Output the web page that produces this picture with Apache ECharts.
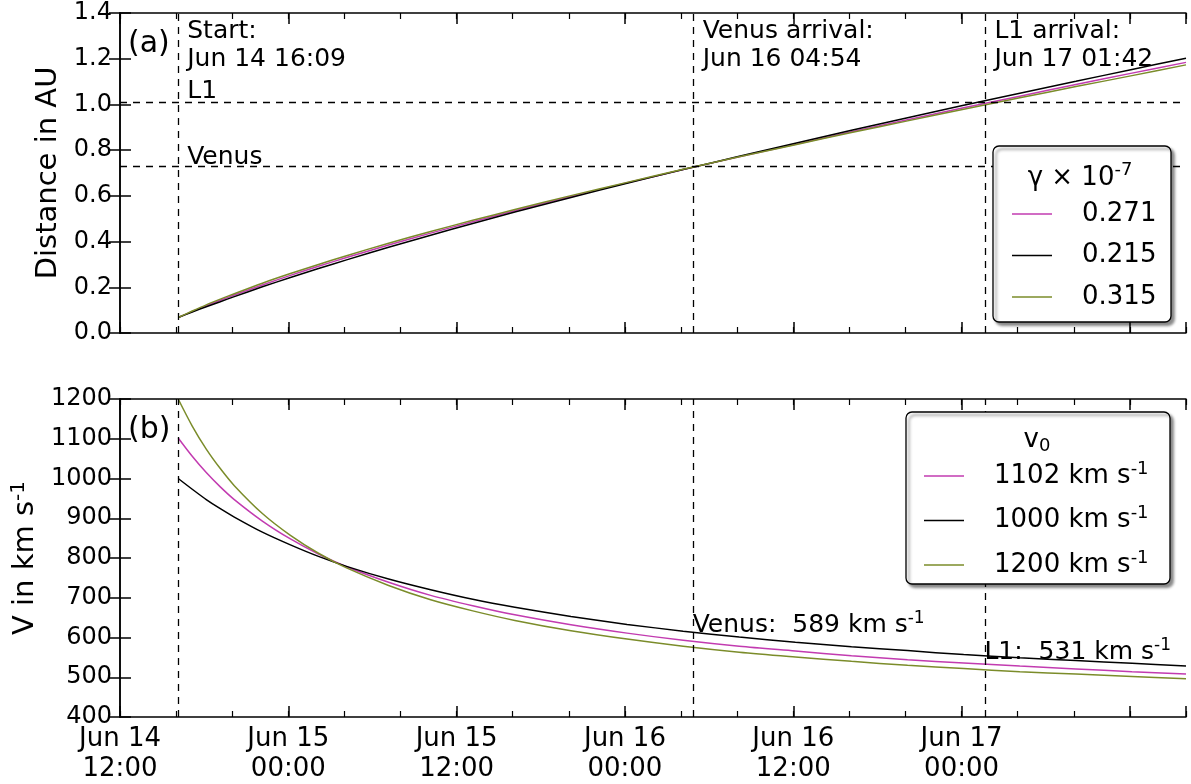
<!DOCTYPE html>
<html>
<head>
<meta charset="utf-8">
<script src="https://cdn.jsdelivr.net/npm/echarts@6/dist/echarts.min.js"></script>
<style>
html,body{margin:0;padding:0;background:#fff;}
#chart{width:1191px;height:784px;}
</style>
</head>
<body>
<div id="chart"></div>
<script>
// ---- data (hours counted from Jun 14 12:00) ----
const tickLabels = ['Jun 14\n12:00','Jun 15\n00:00','Jun 15\n12:00','Jun 16\n00:00','Jun 16\n12:00','Jun 17\n00:00'];
const hours = [4.15,5.15,6.15,7.15,8.15,10.15,12.15,14.15,16.15,19.15,22.15,25.15,28.15,32.15,36.15,40.15,44.15,48.15,52.15,56.15,60.15,64.15,68.15,72.15,76.0];

const gammaLabels = ['0.271','0.215','0.315'];
const v0Labels = ['1102','1000','1200'];

const distPink  = [0.068,0.094,0.119,0.143,0.166,0.210,0.252,0.292,0.330,0.385,0.437,0.487,0.535,0.597,0.657,0.715,0.771,0.826,0.880,0.933,0.985,1.036,1.087,1.137,1.184];
const distBlack = [0.068,0.092,0.115,0.137,0.159,0.202,0.243,0.282,0.320,0.375,0.428,0.479,0.529,0.593,0.655,0.715,0.773,0.830,0.887,0.942,0.996,1.049,1.101,1.153,1.202];
const distOlive = [0.068,0.096,0.123,0.148,0.172,0.218,0.260,0.300,0.338,0.393,0.444,0.493,0.540,0.601,0.659,0.716,0.771,0.824,0.877,0.928,0.979,1.029,1.078,1.126,1.173];

const velPink  = [1102,1056,1015,979,947,893,848,810,778,739,706,680,657,632,611,593,578,566,554,544,536,528,521,514,508];
const velBlack = [1000,973,947,924,903,865,833,804,779,747,720,696,676,653,633,616,601,588,577,567,557,549,542,535,528];
const velOlive = [1200,1132,1074,1025,982,912,857,812,775,731,695,667,643,617,596,578,563,551,540,530,522,514,508,502,496];

// event times (hours from Jun 14 12:00) and reference distances
const eventHours = [4.15, 40.9, 61.7];       // Start 16:09, Venus 04:54 (Jun 16), L1 01:42 (Jun 17)
const eventTexts = ['Start:\nJun 14 16:09', 'Venus arrival:\nJun 16 04:54', 'L1 arrival:\nJun 17 01:42'];
const refDistances = [1.015, 0.726];         // L1, Venus
const refNames = ['L1', 'Venus'];
const arrivalSpeeds = [589, 531];            // Venus, L1

const colors = ['#c23bb0', '#000000', '#7b8c2a'];
const FONT = 'DejaVu Sans';

function zip(xs, ys){ return xs.map((x,i)=>[x, ys[i]]); }

const chart = echarts.init(document.getElementById('chart'), null, {renderer:'canvas'});

const axisLineStyle = {show:true, lineStyle:{color:'#000', width:1.5}};
function xMajor(grid, pos, labels){
  return {type:'value', gridIndex:grid, position:pos, min:0, max:76, interval:12,
    axisLine: axisLineStyle,
    axisTick:{show:true, inside:true, length:11, lineStyle:{color:'#000', width:1.5}},
    axisLabel: labels ? {show:true, fontFamily:FONT, fontSize:26, lineHeight:30, color:'#000', margin:7,
        formatter:(v)=> (Math.abs(v/12 - Math.round(v/12))<1e-6 && tickLabels[Math.round(v/12)]) ? tickLabels[Math.round(v/12)] : ''} : {show:false},
    splitLine:{show:false}};
}
function xMinor(grid, pos){
  return {type:'value', gridIndex:grid, position:pos, min:0, max:76, interval:4,
    axisLine:{show:false},
    axisTick:{show:true, inside:true, length:6, lineStyle:{color:'#000', width:1.2}},
    axisLabel:{show:false}, splitLine:{show:false}};
}
function yAxis(grid, pos, min, max, interval, labels, fmt, name){
  const a = {type:'value', gridIndex:grid, position:pos, min:min, max:max, interval:interval,
    axisLine: axisLineStyle,
    axisTick:{show:true, inside:true, length:11, lineStyle:{color:'#000', width:1.5}},
    axisLabel: labels ? {show:true, fontFamily:FONT, fontSize:24, color:'#000', margin:8, formatter:fmt} : {show:false},
    splitLine:{show:false}};
  if (name) Object.assign(a, name);
  return a;
}

const lineSeries = (name, data, xi, yi, color) => ({
  name:name, type:'line', xAxisIndex:xi, yAxisIndex:yi, data:data, symbol:'none',
  smooth:0.3, lineStyle:{color:color, width:1.5}, itemStyle:{color:color}, z:3, silent:true
});

const dashStyle = {color:'#000', width:1.3, type:[7,6]};

const option = {
  animation:false,
  backgroundColor:'#fff',
  textStyle:{fontFamily:FONT},
  grid:[
    {left:120, top:13, width:1066, height:320, containLabel:false},
    {left:120, top:399, width:1066, height:319, containLabel:false}
  ],
  xAxis:[
    xMajor(0,'bottom',false), xMinor(0,'bottom'), xMajor(0,'top',false), xMinor(0,'top'),
    xMajor(1,'bottom',true),  xMinor(1,'bottom'), xMajor(1,'top',false), xMinor(1,'top')
  ],
  yAxis:[
    yAxis(0,'left',0,1.4,0.2,true,(v)=>v.toFixed(1),
      {name:'Distance in AU', nameLocation:'middle', nameGap:53, nameTextStyle:{fontFamily:FONT, fontSize:29, color:'#000'}}),
    yAxis(0,'right',0,1.4,0.2,false),
    yAxis(1,'left',400,1200,100,true,(v)=>String(Math.round(v)),
      {name:'{a|V in km s}{b|-1}', nameLocation:'middle', nameGap:70,
       nameTextStyle:{fontFamily:FONT, fontSize:29, color:'#000',
         rich:{a:{fontFamily:FONT, fontSize:29, color:'#000'}, b:{fontFamily:FONT, fontSize:20, color:'#000', padding:[0,0,14,0]}}}}),
    yAxis(1,'right',400,1200,100,false)
  ],
  legend:[
    {data:gammaLabels, orient:'vertical', left:1012, top:201, padding:0, itemGap:15.5,
     icon:'rect', itemWidth:40, itemHeight:1.5, selectedMode:false, z:60,
     formatter:(n)=>'{t|'+n+'}',
     textStyle:{fontFamily:FONT, fontSize:26, color:'#000',
       rich:{t:{fontFamily:FONT, fontSize:26, color:'#000', lineHeight:28, padding:[0,0,0,25]}}}},
    {data:v0Labels.map(v=>v+' km s-1'), orient:'vertical', left:924, top:460, padding:0, itemGap:12.5,
     icon:'rect', itemWidth:40, itemHeight:1.5, selectedMode:false, z:60,
     formatter:(n)=>'{t|'+n.replace(' km s-1',' km s')+'}{s|-1}',
     textStyle:{fontFamily:FONT, fontSize:26, color:'#000',
       rich:{t:{fontFamily:FONT, fontSize:26, color:'#000', lineHeight:28, padding:[0,0,0,25]},
             s:{fontFamily:FONT, fontSize:18, color:'#000', lineHeight:28, padding:[0,0,14,0]}}}}
  ],
  series:[
    // reference lines
    {type:'line', xAxisIndex:0, yAxisIndex:0, data:[], silent:true, z:2,
     markLine:{silent:true, symbol:['none','none'], label:{show:false}, lineStyle:dashStyle, animation:false,
       data: eventHours.map(h=>({xAxis:h})).concat(refDistances.map(d=>({yAxis:d})))}},
    {type:'line', xAxisIndex:4, yAxisIndex:2, data:[], silent:true, z:2,
     markLine:{silent:true, symbol:['none','none'], label:{show:false}, lineStyle:dashStyle, animation:false,
       data: eventHours.map(h=>({xAxis:h}))}},
    lineSeries(gammaLabels[0], zip(hours, distPink), 0, 0, colors[0]),
    lineSeries(gammaLabels[1], zip(hours, distBlack), 0, 0, colors[1]),
    lineSeries(gammaLabels[2], zip(hours, distOlive), 0, 0, colors[2]),
    lineSeries(v0Labels[0]+' km s-1', zip(hours, velPink), 4, 2, colors[0]),
    lineSeries(v0Labels[1]+' km s-1', zip(hours, velBlack), 4, 2, colors[1]),
    lineSeries(v0Labels[2]+' km s-1', zip(hours, velOlive), 4, 2, colors[2])
  ]
};
chart.setOption(option);

// ---- annotations & legend boxes ----
const P0 = (x,y)=>chart.convertToPixel({gridIndex:0},[x,y]);
const P1 = (x,y)=>chart.convertToPixel({gridIndex:1},[x,y]);
const txt = (x,y,text,opts)=>Object.assign({type:'text', x:x, y:y, z:40, silent:true,
  style:Object.assign({text:text, font:'25px "DejaVu Sans"', fill:'#000'}, opts||{})});

const g = [];
const topLeft0 = P0(0,1.4), topLeft1 = P1(0,1200);
g.push(txt(topLeft0[0]+8, topLeft0[1]+31, '(a)', {font:'30px "DejaVu Sans"', verticalAlign:'middle'}));
g.push(txt(topLeft1[0]+8, topLeft1[1]+31, '(b)', {font:'30px "DejaVu Sans"', verticalAlign:'middle'}));
eventHours.forEach((h,i)=>{
  const p = P0(h,1.4);
  g.push(txt(p[0]+9, p[1]+4, eventTexts[i], {lineHeight:28, verticalAlign:'top'}));
});
refDistances.forEach((d,i)=>{
  const p = P0(eventHours[0], d);
  g.push(txt(p[0]+9, p[1]+5, refNames[i], {verticalAlign:'bottom', lineHeight:30}));
});
const richSup = {n:{font:'25px "DejaVu Sans"', fill:'#000', lineHeight:30}, s:{font:'17px "DejaVu Sans"', fill:'#000', lineHeight:30, padding:[0,0,14,0]}};
[['Venus', eventHours[1], arrivalSpeeds[0], -1], ['L1', eventHours[2], arrivalSpeeds[1], 3]].forEach(([nm,h,v,dy])=>{
  const p = P1(h, v);
  g.push(txt(p[0]-1, p[1]+dy, '{n|'+nm+':  '+v+' km s}{s|-1}', {verticalAlign:'bottom', rich:richSup}));
});
// legend frames + titles
const box = (x,y,w,h)=>({type:'rect', z:30, silent:true, shape:{x:x,y:y,width:w,height:h,r:6},
  style:{fill:'#fff', stroke:'#000', lineWidth:1.3, shadowBlur:3, shadowOffsetX:3, shadowOffsetY:3, shadowColor:'rgba(0,0,0,0.45)'}});
g.push(box(993,146,178,176));
g.push(box(906,412,264,172));
g.push(txt(1080,178,'{n|γ × 10}{s|-7}', {align:'center', verticalAlign:'middle',
  rich:{n:{font:'26px "DejaVu Sans"', fill:'#000', lineHeight:30}, s:{font:'18px "DejaVu Sans"', fill:'#000', lineHeight:30, padding:[0,0,16,0]}}}));
g.push(txt(1037,440,'{n|v}{s|0}', {align:'center', verticalAlign:'middle',
  rich:{n:{font:'26px "DejaVu Sans"', fill:'#000', lineHeight:30}, s:{font:'18px "DejaVu Sans"', fill:'#000', lineHeight:30, padding:[12,0,0,0]}}}));
chart.setOption({graphic:{elements:g}});
</script>
</body>
</html>
